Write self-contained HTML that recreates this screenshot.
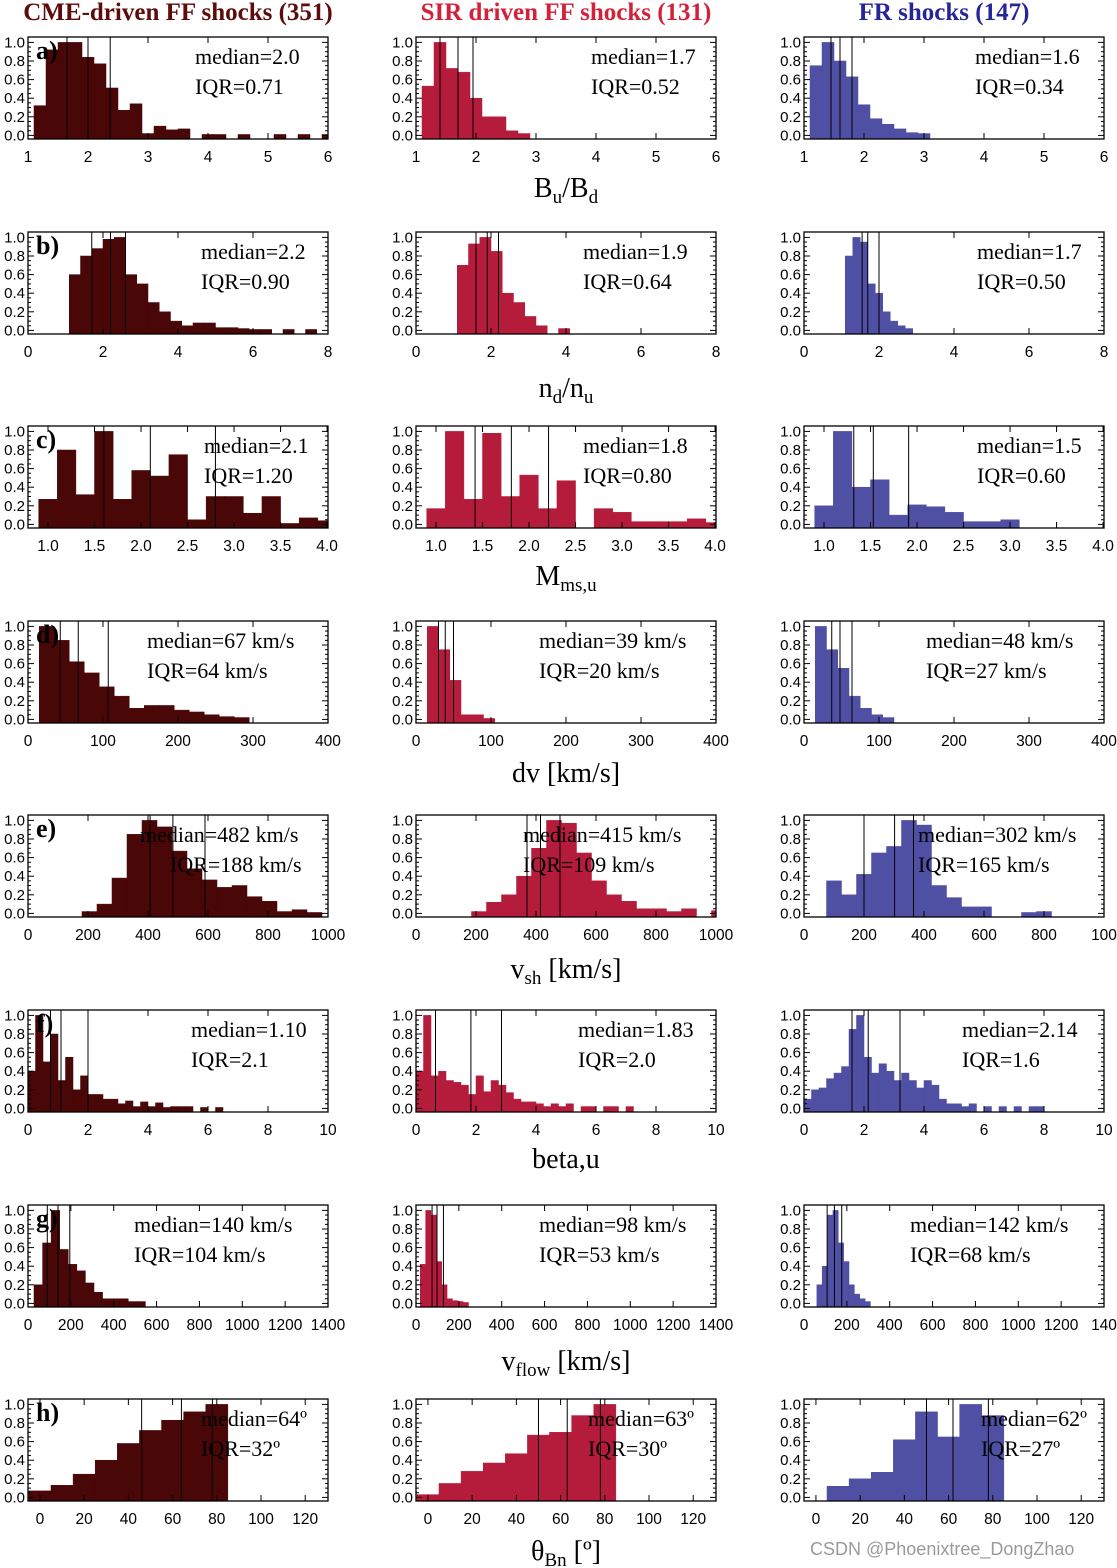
<!DOCTYPE html>
<html><head><meta charset="utf-8"><style>
html,body{margin:0;padding:0;background:#fff;}
svg{display:block;}
</style></head><body>
<svg id="fig" width="1117" height="1568" xmlns="http://www.w3.org/2000/svg"></svg>
<script>
// ---- data: bin starts, bin widths, heights, quartiles ----
const colHeaders = ["CME-driven FF shocks (351)", "SIR driven FF shocks (131)", "FR shocks (147)"];
const rowLetters = ["a)", "b)", "c)", "d)", "e)", "f)", "g)", "h)"];
const a1 = [0.32,0.92,1.0,1.0,0.84,0.77,0.51,0.27,0.34,0.02,0.1,0.06,0.07,0,0.01,0.01,0,0.01,0,0,0.01,0,0.01,0,0.01];
const a2 = [0.53,1.0,0.72,0.68,0.4,0.2,0.2,0.05,0.02];
const a3 = [0.75,1.0,0.8,0.63,0.33,0.18,0.12,0.07,0.03,0.02];
const b1 = [0.6,0.8,0.88,0.98,1.0,0.6,0.5,0.3,0.2,0.1,0.05,0.08,0.08,0.03,0.03,0.02,0.01,0.01,0,0.01,0,0.01];
const b2 = [0.7,0.93,1.0,0.85,0.4,0.3,0.15,0.05,0,0.02];
const b3 = [0.8,1.0,0.95,0.5,0.4,0.2,0.1,0.05,0.02];
const c1 = [0.27,0.8,0.32,1.0,0.27,0.58,0.52,0.75,0.05,0.3,0.3,0.12,0.3,0.01,0.07,0.04];
const c2 = [0.17,1.0,0.27,0.98,0.3,0.53,0.17,0.47,0,0.17,0.13,0.03,0.03,0.03,0.06,0.02];
const c3 = [0.2,1.0,0.4,0.48,0.1,0.21,0.19,0.13,0.03,0.03,0.05];
const d1 = [1.0,0.85,0.62,0.5,0.35,0.25,0.12,0.15,0.15,0.1,0.08,0.05,0.03,0.02];
const d2 = [1.0,0.75,0.42,0.05,0.05,0.01];
const d3 = [1.0,0.75,0.55,0.25,0.12,0.05,0.02];
const e1 = [0.02,0.1,0.38,0.85,1.0,0.93,0.67,0.48,0.36,0.28,0.3,0.18,0.13,0.02,0.04,0.01];
const e2 = [0.02,0.12,0.2,0.4,0.7,1.0,0.97,0.65,0.35,0.2,0.13,0.05,0.05,0.02,0.05,0,0.03];
const e3 = [0.35,0.2,0.42,0.65,0.72,1.0,0.95,0.3,0.17,0.07,0.07,0,0,0.01,0.02];
const f1 = [0.4,1.0,0.5,0.8,0.3,0.55,0.2,0.35,0.15,0.15,0.1,0.1,0.05,0.08,0.02,0.07,0.02,0.06,0.01,0.02,0.02,0.02,0,0.01,0,0.01];
const f2 = [0.4,1.0,0.35,0.4,0.3,0.28,0.25,0.15,0.35,0.18,0.3,0.25,0.17,0.1,0.07,0.07,0.05,0.02,0.05,0.02,0.05,0,0.02,0.02,0,0.02,0.02,0,0.02];
const f3 = [0.1,0.2,0.22,0.32,0.38,0.45,0.85,1.0,0.55,0.38,0.48,0.4,0.3,0.38,0.3,0.22,0.3,0.25,0.1,0.05,0.05,0.02,0.05,0,0.02,0,0.02,0,0.02,0,0.02,0.02];
const g1 = [0.2,0.65,1.0,0.58,0.42,0.35,0.22,0.12,0.05,0.05,0.05,0.02,0.02];
const g2 = [0.42,1.0,0.95,0.45,0.2,0.05,0.03,0.02,0.01];
const g3 = [0.2,0.4,0.95,1.0,0.65,0.45,0.2,0.1,0.05,0.02];
const h1 = [0.07,0.13,0.25,0.4,0.58,0.72,0.83,0.92,1.0];
const h2 = [0.03,0.15,0.28,0.37,0.47,0.67,0.7,0.88,1.0];
const h3 = [0,0.12,0.2,0.27,0.62,0.92,0.65,1.0,0.88];
const binStarts = [1.1, 1.1, 0.9, 15, 180, 0, 28, -5];
const binStartsSIR = [1.1, 1.1, 0.9, 15, 185, 0, 20, -5];
const binStartsFR = [1.1, 1.1, 0.9, 15, 75, 0, 60, -5];
const binWidths = [0.2, 0.3, 0.2, 20, 50, 0.25, 40, 10];
const binWidthsSIR = [0.2, 0.3, 0.2, 15, 50, 0.25, 25, 10];
const binWidthsFR = [0.2, 0.2, 0.2, 15, 50, 0.25, 25, 10];
const quart1 = [[1.65,2.0,2.37],[1.7,2.2,2.6],[1.6,2.1,2.8],[43,67,107],[407,483,590],[0.75,1.1,2.0],[90,140,195],[46,64,78]];
const quart2 = [[1.4,1.7,1.95],[1.6,1.9,2.2],[1.42,1.81,2.21],[30,39,50],[370,415,480],[0.65,1.83,2.85],[75,98,128],[50,63,78]];
const quart3 = [[1.45,1.6,1.8],[1.55,1.7,2.0],[1.32,1.53,1.91],[37,48,64],[200,302,365],[1.6,2.14,3.2],[108,142,176],[50,62,78]];
const medianText1 = ["median=2.0","median=2.2","median=2.1","median=67 km/s","median=482 km/s","median=1.10","median=140 km/s","median=64º"];
const iqrText1 = ["IQR=0.71","IQR=0.90","IQR=1.20","IQR=64 km/s","IQR=188 km/s","IQR=2.1","IQR=104 km/s","IQR=32º"];
const medianText2 = ["median=1.7","median=1.9","median=1.8","median=39 km/s","median=415 km/s","median=1.83","median=98 km/s","median=63º"];
const iqrText2 = ["IQR=0.52","IQR=0.64","IQR=0.80","IQR=20 km/s","IQR=109 km/s","IQR=2.0","IQR=53 km/s","IQR=30º"];
const medianText3 = ["median=1.6","median=1.7","median=1.5","median=48 km/s","median=302 km/s","median=2.14","median=142 km/s","median=62º"];
const iqrText3 = ["IQR=0.34","IQR=0.50","IQR=0.60","IQR=27 km/s","IQR=165 km/s","IQR=1.6","IQR=68 km/s","IQR=27º"];
const xDomains = [[1,6],[0,8],[0.785,4.01],[0,400],[0,1000],[0,10],[0,1400],[-5.4,130.3]];
const xTicks = [["1","2","3","4","5","6"],["0","2","4","6","8"],["1.0","1.5","2.0","2.5","3.0","3.5","4.0"],["0","100","200","300","400"],["0","200","400","600","800","1000"],["0","2","4","6","8","10"],["0","200","400","600","800","1000","1200","1400"],["0","20","40","60","80","100","120"]];
const yTicks = ["0.0","0.2","0.4","0.6","0.8","1.0"];

const heights = [[a1,a2,a3],[b1,b2,b3],[c1,c2,c3],[d1,d2,d3],[e1,e2,e3],[f1,f2,f3],[g1,g2,g3],[h1,h2,h3]];
const starts = [binStarts, binStartsSIR, binStartsFR];
const widths = [binWidths, binWidthsSIR, binWidthsFR];
const quarts = [quart1, quart2, quart3];
const medTexts = [medianText1, medianText2, medianText3];
const iqrTexts = [iqrText1, iqrText2, iqrText3];

// ---- layout ----
const NS = "http://www.w3.org/2000/svg";
const svg = document.getElementById("fig");
const colLeft = [28, 416, 804];
const W = 300, H = 102;
const rowTop = [37, 232, 426, 621, 815, 1010, 1205, 1399];
const colFill = ["#4a0707", "#b51c3c", "#4f4fa3"];
const headColor = ["#5e0b0b", "#d4213a", "#262699"];
const headX = [178, 566, 944];
const textX = [[195,591,975],[201,583,977],[204,583,977],[147,539,926],[140,523,918],[191,578,962],[134,539,910],[201,588,981]];
const iqrX = [[195,591,975],[201,583,977],[204,583,977],[147,539,926],[170,523,918],[191,578,962],[134,539,910],[201,588,981]];

function el(tag, attrs, parent) {
  const e = document.createElementNS(NS, tag);
  for (const k in attrs) e.setAttribute(k, attrs[k]);
  (parent || svg).appendChild(e);
  return e;
}
const serif = '"Liberation Serif", serif';
const sans = '"Liberation Sans", sans-serif';

colHeaders.forEach((t, c) => {
  const tx = el("text", {x: headX[c], y: 20, "text-anchor": "middle", "font-family": serif, "font-weight": "bold", "font-size": 25, fill: headColor[c]});
  
  
  tx.textContent = t;
});

for (let r = 0; r < 8; r++) {
  const top = rowTop[r];
  const y = v => top + 5.4 + (1.0 - v) * 93;
  for (let c = 0; c < 3; c++) {
    const L = colLeft[c];
    const [d0, d1] = xDomains[r];
    const x = v => L + (v - d0) / (d1 - d0) * W;
    const g = el("g", {});
    
    
    const cid = "clip" + r + "_" + c;
    const cp = el("clipPath", {id: cid}, g);
    el("rect", {x: L, y: top, width: W, height: H}, cp);
    const bars = el("g", {"clip-path": "url(#" + cid + ")"}, g);
    const hs = heights[r][c], s0 = starts[c][r], bw = widths[c][r];
    hs.forEach((h, i) => {
      if (h <= 0) return;
      const x0 = x(s0 + i * bw), x1 = x(s0 + (i + 1) * bw);
      const b = el("rect", {x: x0, y: y(h), width: x1 - x0, height: top + H - y(h), fill: colFill[c], stroke: colFill[c], "stroke-width": 0.5}, bars);
      
      
    });
    quarts[c][r].forEach(q => {
      const ln = el("line", {x1: x(q), x2: x(q), y1: top, y2: top + H, stroke: "#000", "stroke-width": 1}, bars);
      
      
    });
    const box = el("rect", {x: L, y: top, width: W, height: H, fill: "none", stroke: "#000", "stroke-width": 1.3}, g);
    
    
    yTicks.forEach((t, i) => {
      const v = i * 0.2, yy = y(v);
      el("line", {x1: L, x2: L + 6, y1: yy, y2: yy, stroke: "#000"}, g);
      el("line", {x1: L + W - 6, x2: L + W, y1: yy, y2: yy, stroke: "#000"}, g);
      const tl = el("text", {x: L - 3, y: yy + 5, "text-anchor": "end", "font-family": sans, "font-size": 15, fill: "#000"}, g);
      
      
      tl.textContent = t;
      if (i < 5) for (let m = 1; m < 4; m++) {
        const ym = y(v + m * 0.05);
        el("line", {x1: L, x2: L + 3, y1: ym, y2: ym, stroke: "#000"}, g);
        el("line", {x1: L + W - 3, x2: L + W, y1: ym, y2: ym, stroke: "#000"}, g);
      }
    });
    xTicks[r].forEach((t, i) => {
      const v = parseFloat(t);
      const xx = x(v);
      el("line", {x1: xx, x2: xx, y1: top + H, y2: top + H - 6, stroke: "#000"}, g);
      el("line", {x1: xx, x2: xx, y1: top, y2: top + 6, stroke: "#000"}, g);
      let label = t;
      if (c === 2 && i === xTicks[r].length - 1 && t.length >= 4) label = t.slice(0, 3);
      const tl = el("text", {x: xx, y: top + H + 23, "text-anchor": "middle", "font-family": sans, "font-size": 15.5, fill: "#000"}, g);
      
      
      tl.textContent = label;
    });
    const mt = el("text", {x: textX[r][c], y: top + 27, "font-family": serif, "font-size": 22, fill: "#000"}, g);
    
    
    mt.textContent = medTexts[c][r];
    const it = el("text", {x: iqrX[r][c], y: top + 57, "font-family": serif, "font-size": 22, fill: "#000"}, g);
    
    
    it.textContent = iqrTexts[c][r];
    if (c === 0) {
      const pl = el("text", {x: 36, y: top + 22, "font-family": serif, "font-weight": "bold", "font-size": 26, fill: "#000"}, g);
      
      
      pl.textContent = rowLetters[r];
    }
  }
}

const titleY = [197, 397, 585, 782, 978, 1168, 1370, 1560];
const titles = [
  ['B','u','/B','d',''],
  ['n','d','/n','u',''],
  ['M','ms,u','','',''],
  ['dv [km/s]','','','',''],
  ['v','sh',' [km/s]','',''],
  ['beta,u','','','',''],
  ['v','flow',' [km/s]','',''],
  ['θ','Bn',' [º]','','']
];
titles.forEach((parts, r) => {
  const t = el("text", {x: 566, y: titleY[r], "text-anchor": "middle", "font-family": serif, "font-size": 28, fill: "#000"});
  
  
  parts.forEach((p, i) => {
    if (!p) return;
    const ts = el("tspan", {}, t);
    if (i % 2 === 1) { ts.setAttribute("font-size", 19); ts.setAttribute("dy", 6); }
    else if (i > 0) { ts.setAttribute("dy", -6); }
    ts.textContent = p;
  });
});

const wm = el("text", {x: 810, y: 1555, "font-family": sans, "font-size": 18, fill: "#9a9a9a"});


wm.textContent = "CSDN @Phoenixtree_DongZhao";
</script>
</body></html>
